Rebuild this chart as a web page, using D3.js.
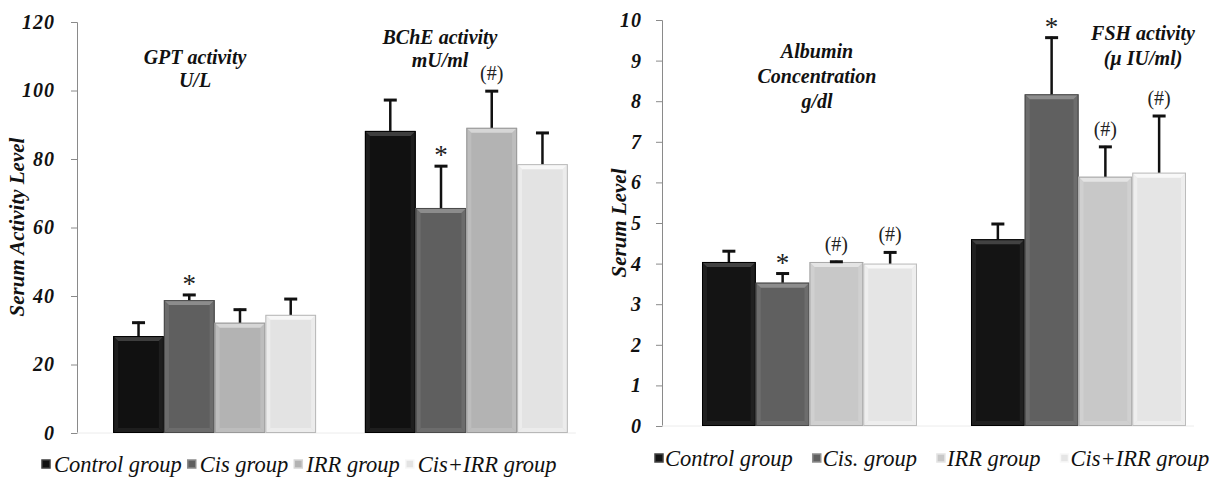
<!DOCTYPE html>
<html>
<head>
<meta charset="utf-8">
<script src="https://cdn.jsdelivr.net/npm/d3@7"></script>
</head>
<body style="margin:0">
<div id="chart"></div>
<script>
// data
let groups = ['Control group', 'Cis group', 'IRR group', 'Cis+IRR group'];
let groupsRight = ['Control group', 'Cis. group', 'IRR group', 'Cis+IRR group'];

let leftTests = ['GPT', 'BChE'];
let leftTitles = [['GPT activity', 'U/L'], ['BChE activity', 'mU/ml']];
let leftMeans = [[28.3, 38.8, 32.2, 34.5], [88.2, 65.7, 89.1, 78.5]];
let leftErrs = [[4.2, 1.8, 4.1, 4.9], [9.3, 12.5, 11.0, 9.4]];
let leftMarks = [['', '*', '', ''], ['', '*', '(#)', '']];
let leftTicks = [0, 20, 40, 60, 80, 100, 120];

let rightTests = ['Albumin', 'FSH'];
let rightTitles = [['Albumin', 'Concentration', 'g/dl'], ['FSH activity', '(\u00b5 IU/ml)']];
let rightMeans = [[4.04, 3.53, 4.04, 4.0], [4.6, 8.17, 6.14, 6.24]];
let rightErrs = [[0.29, 0.25, 0.03, 0.3], [0.4, 1.42, 0.76, 1.42]];
let rightMarks = [['', '*', '(#)', '(#)'], ['', '*', '(#)', '(#)']];
let rightTicks = [0, 1, 2, 3, 4, 5, 6, 7, 8, 9, 10];

let w = 1221;
let h = 478;
let serif = '"Liberation Serif"';

let svg = d3.select('#chart')
            .append('svg')
            .attr('width', w)
            .attr('height', h);

// bar shades: base, top bevel, side bevel, outline
let shadesL = [
  ['#111111', '#3e3e3e', '#1e1e1e', '#000000'],
  ['#5f5f5f', '#8c8c8c', '#6c6c6c', '#4a4a4a'],
  ['#b3b3b3', '#d6d6d6', '#bdbdbd', '#999999'],
  ['#e3e3e3', '#f7f7f7', '#ececec', '#b8b8b8']
];
let shadesR = [
  ['#141414', '#424242', '#202020', '#000000'],
  ['#606060', '#8d8d8d', '#6d6d6d', '#4a4a4a'],
  ['#c8c8c8', '#e4e4e4', '#d0d0d0', '#a8a8a8'],
  ['#e5e5e5', '#f8f8f8', '#eeeeee', '#bcbcbc']
];

function drawPanel(cfg) {
  let g = svg.append('g');
  let y = d3.scaleLinear().domain(cfg.domain).range(cfg.yRange);
  let x0 = d3.scaleBand().domain(cfg.tests).range(cfg.xRange)
             .paddingInner(cfg.padIn).paddingOuter(cfg.padOut);
  let x1 = d3.scaleBand().domain(d3.range(4)).range([0, x0.bandwidth()]);

  // y axis
  let yAxis = d3.axisLeft(y).tickValues(cfg.ticks).tickSize(6).tickPadding(cfg.tickPad);
  let ax = g.append('g')
            .attr('transform', 'translate(' + cfg.axisX + ',0)')
            .call(yAxis)
            .attr('font-family', serif)
            .attr('font-size', 20);
  ax.select('.domain').attr('stroke', '#8a8a8a');
  ax.selectAll('.tick line').attr('stroke', '#8a8a8a');
  ax.selectAll('.tick text')
    .attr('font-family', serif)
    .attr('font-size', 20)
    .attr('font-style', 'italic')
    .attr('font-weight', 'bold')
    .attr('letter-spacing', 1)
    .attr('fill', '#111');

  // faint baseline
  g.append('line')
   .attr('x1', cfg.axisX).attr('x2', x0(cfg.tests[1]) + x0.bandwidth() + 8)
   .attr('y1', y(0)).attr('y2', y(0))
   .attr('stroke', '#ececec');

  // axis title
  g.append('text')
   .attr('transform', 'translate(' + cfg.labelX + ',' + cfg.labelY + ') rotate(-90)')
   .attr('text-anchor', 'middle')
   .attr('font-family', serif)
   .attr('font-size', 21)
   .attr('font-style', 'italic')
   .attr('font-weight', 'bold')
   .attr('fill', '#111')
   .text(cfg.label);

  let bev = 5;
  cfg.tests.forEach((t, ti) => {
    let bars = g.append('g').attr('transform', 'translate(' + x0(t) + ',0)');
    cfg.means[ti].forEach((m, i) => {
      let bx = x1(i);
      let bw = x1.bandwidth();
      let top = y(m);
      let bot = y(0);
      let s = cfg.shades[i];
      bars.append('rect')
          .attr('x', bx).attr('y', top)
          .attr('width', bw).attr('height', bot - top)
          .attr('fill', s[0]);
      // side bevels
      bars.append('polygon')
          .attr('points', [[bx, top], [bx + bev, top + bev], [bx + bev, bot - bev], [bx, bot]].join(' '))
          .attr('fill', s[2]);
      bars.append('polygon')
          .attr('points', [[bx + bw, top], [bx + bw - bev, top + bev], [bx + bw - bev, bot - bev], [bx + bw, bot]].join(' '))
          .attr('fill', s[2]);
      // top bevel
      bars.append('polygon')
          .attr('points', [[bx, top], [bx + bw, top], [bx + bw - bev, top + bev], [bx + bev, top + bev]].join(' '))
          .attr('fill', s[1]);
      // bottom bevel
      bars.append('polygon')
          .attr('points', [[bx, bot], [bx + bw, bot], [bx + bw - bev, bot - bev], [bx + bev, bot - bev]].join(' '))
          .attr('fill', s[2]);
      bars.append('rect')
          .attr('x', bx + 0.5).attr('y', top + 0.5)
          .attr('width', bw - 1).attr('height', bot - top - 1)
          .attr('fill', 'none')
          .attr('stroke', s[3])
          .attr('stroke-width', 1);

      // error bar
      let cx = bx + bw / 2;
      let et = y(m + cfg.errs[ti][i]);
      bars.append('line')
          .attr('x1', cx).attr('x2', cx)
          .attr('y1', top).attr('y2', et)
          .attr('stroke', '#111').attr('stroke-width', 2.5);
      bars.append('line')
          .attr('x1', cx - 6.5).attr('x2', cx + 6.5)
          .attr('y1', et + 1).attr('y2', et + 1)
          .attr('stroke', '#111').attr('stroke-width', 3);

      let mk = cfg.marks[ti][i];
      if (mk) {
        bars.append('text')
            .attr('x', cx)
            .attr('y', mk == '*' ? et - 1 : et - 10)
            .attr('text-anchor', 'middle')
            .attr('font-family', serif)
            .attr('font-size', mk == '*' ? 27 : 20)
            .attr('fill', '#222')
            .text(mk);
      }
    });

    // titles
    let tt = g.append('text')
              .attr('text-anchor', 'middle')
              .attr('font-family', serif)
              .attr('font-size', 20)
              .attr('font-style', 'italic')
              .attr('font-weight', 'bold')
              .attr('fill', '#111');
    cfg.titles[ti].forEach((line, li) => {
      tt.append('tspan')
        .attr('x', cfg.titleX[ti])
        .attr('y', cfg.titleY[ti] + li * cfg.titleGap)
        .text(line);
    });
  });

  // legend
  let lg = g.append('g');
  let lx = cfg.legendX;
  cfg.groups.forEach((name, i) => {
    let s = cfg.shades[i];
    lg.append('rect')
      .attr('x', lx).attr('y', cfg.legendY - 12)
      .attr('width', 8).attr('height', 8)
      .attr('fill', s[0]).attr('stroke', s[1]).attr('stroke-width', 1.5);
    let tx = lg.append('text')
               .attr('x', lx + cfg.legendPad).attr('y', cfg.legendY)
               .attr('font-family', serif)
               .attr('font-size', 22.5)
               .attr('font-style', 'italic')
               .attr('fill', '#111')
               .text(name);
    lx += cfg.legendPad + tx.node().getComputedTextLength() + cfg.legendGap;
  });
}

drawPanel({
  tests: leftTests, titles: leftTitles, means: leftMeans, errs: leftErrs, marks: leftMarks,
  ticks: leftTicks, domain: [0, 120], yRange: [433, 22],
  xRange: [88, 593], padIn: 0.194, padOut: 0.1,
  axisX: 77, tickPad: 16, shades: shadesL, groups: groups,
  label: 'Serum  Activity Level', labelX: 24, labelY: 227,
  titleX: [195, 440], titleY: [64, 44], titleGap: 23,
  legendX: 42, legendY: 472, legendGap: 6, legendPad: 12
});

drawPanel({
  tests: rightTests, titles: rightTitles, means: rightMeans, errs: rightErrs, marks: rightMarks,
  ticks: rightTicks, domain: [0, 10], yRange: [426, 20],
  xRange: [662, 1226], padIn: 0.2007, padOut: 0.1487,
  axisX: 662, tickPad: 14, shades: shadesR, groups: groupsRight,
  label: 'Serum Level', labelX: 626, labelY: 223,
  titleX: [817, 1143], titleY: [58, 40], titleGap: 25,
  legendX: 655, legendY: 466, legendGap: 20, legendPad: 10
});
</script>
</body>
</html>
